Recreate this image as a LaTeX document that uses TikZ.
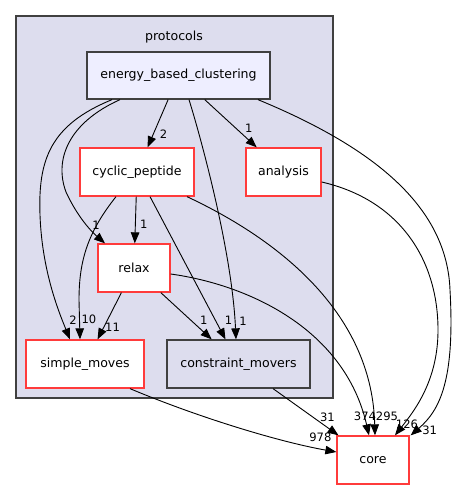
\documentclass[tikz,border=0pt]{standalone}
\usepackage{fontspec}
\setmainfont{DejaVu Sans}
\usetikzlibrary{arrows.meta}
\definecolor{clusterfill}{HTML}{DDDDEE}
\definecolor{topfill}{HTML}{EEEEFF}
\definecolor{dirborder}{HTML}{404040}
\definecolor{redborder}{HTML}{FF3B3B}

\begin{document}
\begin{tikzpicture}[x=1bp,y=-1bp,
    dirbox/.style={shape=rectangle,inner sep=0pt,minimum height=48bp,line width=1.3bp,font=\fontsize{12.6}{15}\selectfont},
    reddir/.style={dirbox,draw=redborder,fill=white},
    greydir/.style={dirbox,draw=dirborder,fill=clusterfill},
    dep/.style={-{Triangle[length=11bp,width=8.5bp]},line width=0.9bp},
    lbl/.style={font=\fontsize{11.6}{13}\selectfont,inner sep=0pt,at end}]
    \useasboundingbox (0,0) rectangle (461,489);

    % protocols cluster
    \node[shape=rectangle,draw=dirborder,fill=clusterfill,line width=1.2bp,minimum width=317bp,minimum height=382bp] (protocols) at (174.5,207) {};
    \node[font=\fontsize{12.6}{15}\selectfont] (protocolsname) at (174,37) {protocols};

    \node[dirbox,draw=dirborder,fill=topfill,minimum width=183bp,minimum height=47bp] (ebc) at (178.5,75.5) {energy\_based\_clustering};
    \node[reddir,minimum width=114bp] (cyc) at (137,172) {cyclic\_peptide};
    \node[reddir,minimum width=75bp] (ana) at (283.5,172) {analysis};
    \node[reddir,minimum width=72bp] (relax) at (134,268) {relax};
    \node[reddir,minimum width=118bp] (sm) at (85,364) {simple\_moves};
    \node[greydir,minimum width=143bp] (cm) at (238.5,364) {constraint\_movers};
    \node[reddir,minimum width=72bp] (core) at (373,460) {core};

    \path[dep] (ebc) edge node[lbl,xshift=16bp,yshift=13bp]{2} (cyc);
    \path[dep] (ebc) edge node[lbl,xshift=-8bp,yshift=19bp]{1} (ana);
    \path[dep] (cyc) edge node[lbl,xshift=9bp,yshift=19bp]{1} (relax);
    \path[dep] (cyc) edge node[lbl,xshift=3bp,yshift=19bp]{1} (cm);
    \path[dep] (relax) edge node[lbl,xshift=15bp,yshift=12bp]{11} (sm);
    \path[dep] (relax) edge node[lbl,xshift=-8bp,yshift=19bp]{1} (cm);
    \path[dep] (cm) edge node[lbl,xshift=-11bp,yshift=18bp]{31} (core);

    \draw[dep] ([xshift=10.5bp]ebc.south) .. controls (200,135) and (232,250) .. ([xshift=-2.5bp]cm.north) node[lbl,xshift=7bp,yshift=18bp]{1};
    \draw[dep] ([xshift=-58.5bp]ebc.south) .. controls (68,123) and (54,160) .. (66,192) .. controls (78,218) and (92,232) .. ([xshift=-29bp]relax.north) node[lbl,xshift=-9bp,yshift=18bp]{1};
    \draw[dep] ([xshift=-66.5bp]ebc.south) .. controls (50,125) and (38,160) .. (40,215) .. controls (42,270) and (58,310) .. ([xshift=-15bp]sm.north) node[lbl,xshift=3bp,yshift=19bp]{2};
    \draw[dep] ([xshift=79.5bp]ebc.south) .. controls (380,150) and (447,210) .. (450,290) .. controls (455,380) and (440,410) .. ([xshift=1bp]core.north east) node[lbl,xshift=19bp,yshift=5bp]{31};
    \draw[dep] ([xshift=-21bp]cyc.south) .. controls (88,232) and (79,260) .. (79,300) -- ([xshift=-5bp]sm.north) node[lbl,xshift=9bp,yshift=20bp]{10};
    \draw[dep] ([xshift=50bp]cyc.south) .. controls (290,245) and (372,320) .. ([xshift=2bp]core.north) node[lbl,xshift=12bp,yshift=19bp]{295};
    \draw[dep] ([yshift=-6bp]relax.east) .. controls (250,285) and (345,330) .. ([xshift=-4bp]core.north) node[lbl,xshift=-4bp,yshift=19bp]{374};
    \draw[dep] ([xshift=45bp]sm.south) .. controls (200,418) and (280,442) .. ([yshift=8bp]core.west) node[lbl,xshift=-16bp,yshift=15bp]{978};
    \draw[dep] ([yshift=-10bp]ana.east) .. controls (400,200) and (438,260) .. (438,330) .. controls (438,380) and (415,410) .. ([xshift=22bp]core.north) node[lbl,xshift=12bp,yshift=11bp]{126};
\end{tikzpicture}
\end{document}
